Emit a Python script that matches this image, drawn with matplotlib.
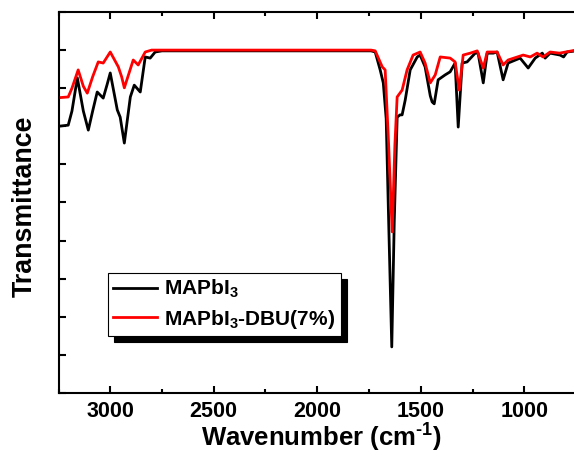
import matplotlib
matplotlib.use("Agg")
from matplotlib import pyplot as plt
from matplotlib.ticker import MultipleLocator

plt.rcParams['font.family'] = ['Liberation Sans', 'DejaVu Sans']
plt.rcParams['font.weight'] = 'bold'
plt.rcParams['mathtext.fontset'] = 'custom'
plt.rcParams['mathtext.rm'] = 'Liberation Sans:bold'
plt.rcParams['mathtext.it'] = 'Liberation Sans:bold'
plt.rcParams['mathtext.bf'] = 'Liberation Sans:bold'
plt.rcParams['mathtext.default'] = 'rm'

# MAPbI3 spectrum (wavenumber, transmittance in arbitrary units)
black_wn = [3250, 3203, 3185, 3159, 3130, 3106, 3085, 3063, 3034, 3015, 3000, 2966, 2952,
            2932, 2903, 2884, 2855, 2831, 2807, 2783, 2750, 1740, 1720, 1696, 1681, 1667,
            1655, 1640, 1628, 1614, 1600, 1590, 1575, 1551, 1517, 1503, 1479, 1454, 1445,
            1435, 1416, 1382, 1358, 1334, 1319, 1300, 1276, 1237, 1223, 1198, 1179, 1150,
            1131, 1102, 1078, 1020, 981, 947, 913, 899, 875, 827, 810, 793, 750]
black_t = [70.0, 70.3, 74.0, 82.7, 74.0, 69.0, 74.0, 79.0, 77.4, 81.0, 84.0, 74.3, 72.4,
           65.6, 77.7, 80.8, 79.0, 88.2, 87.9, 89.5, 89.8, 89.8, 89.5, 84.8, 81.4, 72.0,
           45.0, 12.1, 45.0, 72.4, 73.0, 73.0, 76.9, 84.8, 88.2, 88.7, 85.6, 78.0, 76.4,
           75.9, 82.2, 83.5, 84.3, 86.6, 69.8, 86.6, 86.9, 89.2, 89.2, 81.4, 89.2, 89.2,
           89.5, 82.2, 86.6, 87.9, 85.3, 87.9, 89.2, 87.9, 89.2, 88.7, 88.2, 89.5, 89.8]

# MAPbI3-DBU(7%) spectrum
red_wn = [3250, 3203, 3185, 3155, 3130, 3111, 3085, 3058, 3034, 3000, 2961, 2945, 2932,
          2889, 2865, 2831, 2800, 1740, 1720, 1686, 1672, 1655, 1638, 1625, 1614, 1590,
          1566, 1537, 1503, 1479, 1454, 1430, 1406, 1358, 1334, 1314, 1295, 1261, 1227,
          1198, 1179, 1131, 1102, 1078, 1005, 971, 938, 909, 875, 830, 750]
red_t = [77.5, 77.7, 80.0, 84.8, 80.5, 78.7, 83.0, 86.9, 86.6, 89.5, 85.6, 83.0, 80.1,
         87.4, 86.1, 89.5, 90.0, 90.0, 89.8, 85.6, 84.8, 65.0, 42.3, 65.0, 77.7, 79.5,
         84.8, 88.7, 89.5, 86.6, 81.4, 83.5, 88.2, 87.9, 86.9, 79.5, 88.7, 89.2, 89.8,
         85.3, 89.5, 89.5, 86.1, 87.4, 88.7, 88.2, 89.2, 88.2, 89.5, 89.2, 90.0]


def main():
    fig = plt.figure(figsize=(5.74, 4.59), dpi=100)
    ax = fig.add_axes([58.5 / 574, 1 - 393 / 459, 517.5 / 574, 381 / 459])

    ax.plot(black_wn, black_t, color="black", linewidth=2.0, label="MAPbI$_3$")
    ax.plot(red_wn, red_t, color="red", linewidth=2.0, label="MAPbI$_3$-DBU(7%)")

    ax.set_xlim(3250, 750)
    ax.set_ylim(0, 100)
    ax.xaxis.set_major_locator(MultipleLocator(500))
    ax.xaxis.set_minor_locator(MultipleLocator(250))
    ax.yaxis.set_major_locator(MultipleLocator(10))
    ax.set_yticklabels([])
    ax.tick_params(axis="x", which="both", direction="in", top=True, labelsize=15.5,
                   width=1.5, pad=6)
    ax.tick_params(axis="x", which="major", length=5)
    ax.tick_params(axis="x", which="minor", length=3)
    ax.tick_params(axis="y", direction="in", length=5, width=1.5)
    for side in ax.spines.values():
        side.set_linewidth(1.5)

    fig.text(321 / 574, 1 - 438 / 459, "Wavenumber (cm$^{\u20101}$)", fontsize=18.5,
             fontweight="bold", ha="center", va="center")
    fig.text(25 / 574, 1 - 206 / 459, "Transmittance", fontsize=19.3, fontweight="bold",
             rotation=90, ha="center", va="center")

    leg = ax.legend(loc="upper left", bbox_to_anchor=(0.0957, 0.315), borderaxespad=0,
                    fontsize=15, handlelength=2.1, handletextpad=0.35, labelspacing=0.35,
                    borderpad=0.25, fancybox=False, framealpha=1,
                    shadow={"color": "black", "alpha": 1, "ox": 4.5, "oy": -4.5})
    leg.get_frame().set_edgecolor("black")
    leg.get_frame().set_linewidth(0.8)

    fig.savefig("out.png", dpi=100)


if __name__ == '__main__':
    main()
